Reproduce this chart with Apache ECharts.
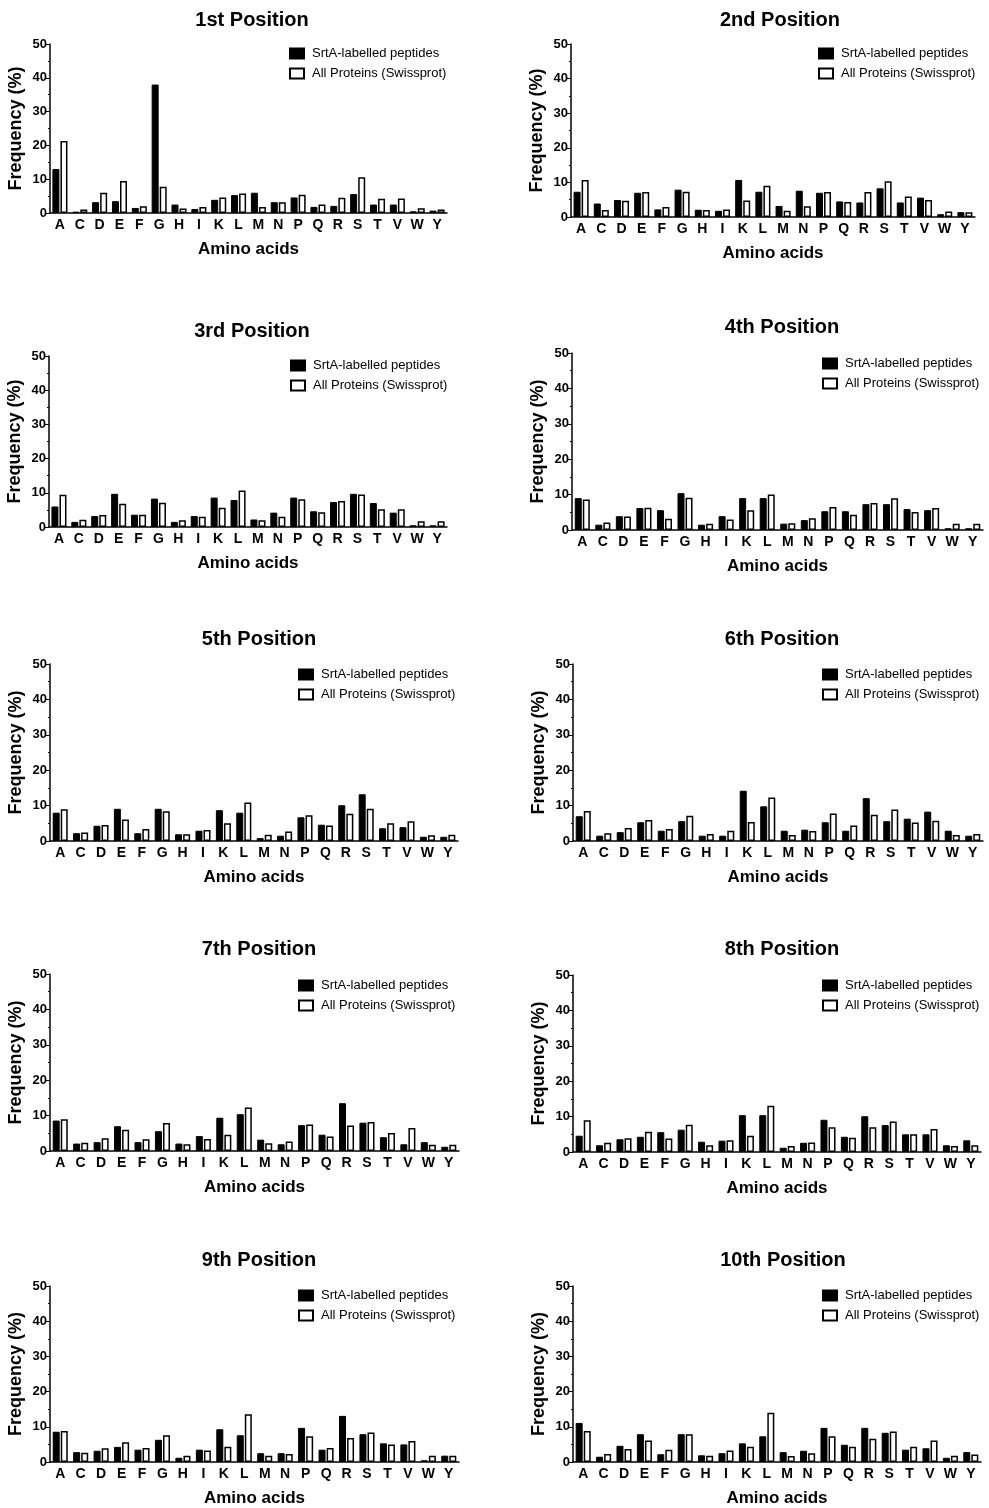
<!DOCTYPE html>
<html>
<head>
<meta charset="utf-8">
<script src="https://cdn.jsdelivr.net/npm/echarts@6/dist/echarts.min.js"></script>
<style>
html,body{margin:0;padding:0;background:#fff;}
#chart{width:989px;height:1508px;}
</style>
</head>
<body>
<div id="chart"></div>
<script>
const categories = ['A','C','D','E','F','G','H','I','K','L','M','N','P','Q','R','S','T','V','W','Y'];
const titles = ['1st Position','2nd Position','3rd Position','4th Position','5th Position','6th Position','7th Position','8th Position','9th Position','10th Position'];
const seriesNames = ['SrtA-labelled peptides','All Proteins (Swissprot)'];
const yTicks = [0,10,20,30,40,50];

const pos1Srt = [13.0,0.4,3.2,3.5,1.5,38.0,2.5,1.2,3.9,5.3,6.0,3.2,4.6,1.8,2.1,5.6,2.5,2.5,0.5,0.7];
const pos1All = [21.3,1.0,6.0,9.5,2.0,7.8,1.3,1.8,4.6,5.8,1.8,3.2,5.4,2.5,4.5,10.6,4.2,4.3,1.4,1.0];
const pos2Srt = [7.3,3.9,4.9,7.0,2.2,7.9,2.1,1.8,10.7,7.3,3.2,7.6,7.0,4.5,4.2,8.3,4.2,5.6,0.8,1.4];
const pos2All = [10.7,2.0,4.7,7.2,2.9,7.3,2.0,2.2,4.8,9.0,1.8,3.1,7.2,4.3,7.2,10.3,5.9,4.9,1.6,1.4];
const pos3Srt = [6.0,1.5,3.2,9.7,3.6,8.3,1.5,3.2,8.6,7.9,2.2,4.2,8.6,4.6,7.3,9.7,7.0,4.2,0.5,0.5];
const pos3All = [9.4,2.1,3.5,6.8,3.6,7.1,2.0,3.0,5.6,10.7,2.0,3.0,8.1,4.3,7.6,9.5,5.2,5.2,1.7,1.7];
const pos4Srt = [9.0,1.5,3.9,6.2,5.6,10.4,1.5,3.9,9.0,9.0,1.8,2.8,5.3,5.3,7.3,7.3,5.9,5.6,0.5,0.5];
const pos4All = [8.6,2.1,3.8,6.3,3.2,9.1,1.8,3.0,5.6,10.0,1.9,3.3,6.5,4.3,7.6,9.0,5.1,6.2,1.8,1.8];
const pos5Srt = [8.0,2.2,4.3,9.1,2.2,9.1,1.9,2.9,8.7,8.0,0.8,1.5,6.7,4.6,10.1,13.2,3.6,3.9,1.2,1.2];
const pos5All = [9.0,2.4,4.5,6.1,3.4,8.4,1.9,3.1,5.0,10.9,1.8,2.7,7.3,4.4,7.7,9.1,5.0,5.6,1.6,1.8];
const pos6Srt = [7.0,1.5,2.5,5.3,2.9,5.6,1.5,1.5,14.2,9.8,2.9,3.2,5.3,2.9,12.1,5.6,6.3,8.3,2.9,1.5];
const pos6All = [8.5,2.2,3.7,5.9,3.4,7.1,2.0,2.9,5.4,12.3,1.7,2.8,7.8,4.4,7.4,8.9,5.2,5.7,1.7,2.0];
const pos7Srt = [8.6,2.1,2.5,7.0,2.5,5.6,2.1,4.2,9.4,10.4,3.2,1.9,7.3,4.6,13.5,8.0,3.9,1.9,2.5,1.2];
const pos7All = [9.0,2.3,3.6,6.0,3.3,7.9,1.9,3.4,4.6,12.3,2.2,2.7,7.5,4.1,7.2,8.2,5.1,6.5,1.8,1.8];
const pos8Srt = [4.6,1.9,3.6,4.3,5.6,6.3,2.9,3.2,10.4,10.4,1.2,2.6,9.1,4.3,10.1,7.6,5.0,5.0,1.9,3.3];
const pos8All = [9.0,2.6,3.9,5.7,3.8,7.7,1.9,3.3,4.6,13.1,1.7,2.7,7.0,4.0,7.0,8.6,5.0,6.5,1.7,1.9];
const pos9Srt = [8.6,2.8,3.2,4.3,3.5,6.3,1.2,3.5,9.3,7.6,2.5,2.5,9.7,3.5,13.1,7.9,5.3,5.0,0.5,1.8];
const pos9All = [8.8,2.6,3.9,5.6,4.0,7.6,1.8,3.3,4.3,13.6,1.8,2.3,7.3,4.0,6.8,8.4,5.0,6.0,1.8,1.8];
const pos10Srt = [11.1,1.5,4.6,7.9,2.2,7.9,1.9,2.5,5.3,7.3,2.8,3.2,9.7,4.9,9.7,8.3,3.5,3.9,1.2,2.8];
const pos10All = [8.8,2.3,3.7,6.1,3.5,7.9,1.8,3.3,4.3,14.0,1.7,2.5,7.3,4.3,6.6,8.7,4.3,6.1,1.8,2.1];

const srtData = [pos1Srt,pos2Srt,pos3Srt,pos4Srt,pos5Srt,pos6Srt,pos7Srt,pos8Srt,pos9Srt,pos10Srt];
const allData = [pos1All,pos2All,pos3All,pos4All,pos5All,pos6All,pos7All,pos8All,pos9All,pos10All];

// layout of each panel (pixels)
const layout = [
  {l:50, t:44,  w:397, h:169, tx:247, ty:5,    lx:284, ly:42},
  {l:571,t:44,  w:404, h:173, tx:775, ty:5,    lx:813, ly:42},
  {l:49, t:356, w:398, h:171, tx:247, ty:316,  lx:285, ly:354},
  {l:572,t:353, w:411, h:177, tx:777, ty:312,  lx:817, ly:352},
  {l:50, t:664, w:408, h:177, tx:254, ty:624,  lx:293, ly:663},
  {l:573,t:664, w:410, h:177, tx:777, ty:624,  lx:817, ly:663},
  {l:50, t:974, w:409, h:177, tx:254, ty:934,  lx:293, ly:974},
  {l:573,t:975, w:408, h:177, tx:777, ty:934,  lx:817, ly:974},
  {l:50, t:1286,w:409, h:176, tx:254, ty:1245, lx:293, ly:1284},
  {l:573,t:1286,w:408, h:176, tx:778, ty:1245, lx:817, ly:1284}
];

const FONT = '"Liberation Sans", Arial, sans-serif';
const option = {animation:false, backgroundColor:'#fff', title:[], grid:[], xAxis:[], yAxis:[], series:[], legend:[]};

layout.forEach((p, i) => {
  option.title.push({text: titles[i], left: p.tx, top: p.ty, textAlign:'center',
    textStyle:{fontFamily:FONT, fontWeight:'bold', fontSize:20, color:'#000'}});
  option.grid.push({left:p.l, top:p.t, width:p.w, height:p.h, containLabel:false});
  option.xAxis.push({type:'category', gridIndex:i, data:categories, boundaryGap:true,
    name:'Amino acids', nameLocation:'middle', nameGap:28,
    nameTextStyle:{fontFamily:FONT, fontWeight:'bold', fontSize:17, color:'#000'},
    axisLine:{lineStyle:{color:'#000', width:1.5}}, axisTick:{show:false},
    axisLabel:{interval:0, fontFamily:FONT, fontWeight:'bold', fontSize:14, color:'#000', margin:5}});
  option.yAxis.push({type:'value', gridIndex:i, min:yTicks[0], max:yTicks[yTicks.length-1], interval:10,
    name:'Frequency (%)', nameLocation:'middle', nameGap:25,
    nameTextStyle:{fontFamily:FONT, fontWeight:'bold', fontSize:18, color:'#000'},
    axisLine:{show:true, lineStyle:{color:'#000', width:1.5}},
    axisTick:{show:true, length:4, lineStyle:{color:'#000', width:1}},
    minorTick:{show:true, splitNumber:2, length:2, lineStyle:{color:'#000', width:1}},
    splitLine:{show:false},
    axisLabel:{fontFamily:FONT, fontWeight:'bold', fontSize:13, color:'#000', margin:3}});
  option.series.push({type:'bar', name:seriesNames[0], xAxisIndex:i, yAxisIndex:i, data:srtData[i],
    barWidth:7, barGap:'15%', itemStyle:{color:'#000', borderColor:'#000', borderWidth:1}});
  option.series.push({type:'bar', name:seriesNames[1], xAxisIndex:i, yAxisIndex:i, data:allData[i],
    barWidth:7, barGap:'15%', itemStyle:{color:'#fff', borderColor:'#000', borderWidth:1.5}});
  option.legend.push({left:p.lx, top:p.ly, orient:'vertical', itemWidth:14, itemHeight:10, itemGap:7,
    selectedMode:false, icon:'rect', data:seriesNames,
    textStyle:{fontFamily:FONT, fontSize:13, color:'#000', padding:[0,0,0,3]}});
});

const chart = echarts.init(document.getElementById('chart'), null, {renderer:'canvas'});
chart.setOption(option);
</script>
</body>
</html>
